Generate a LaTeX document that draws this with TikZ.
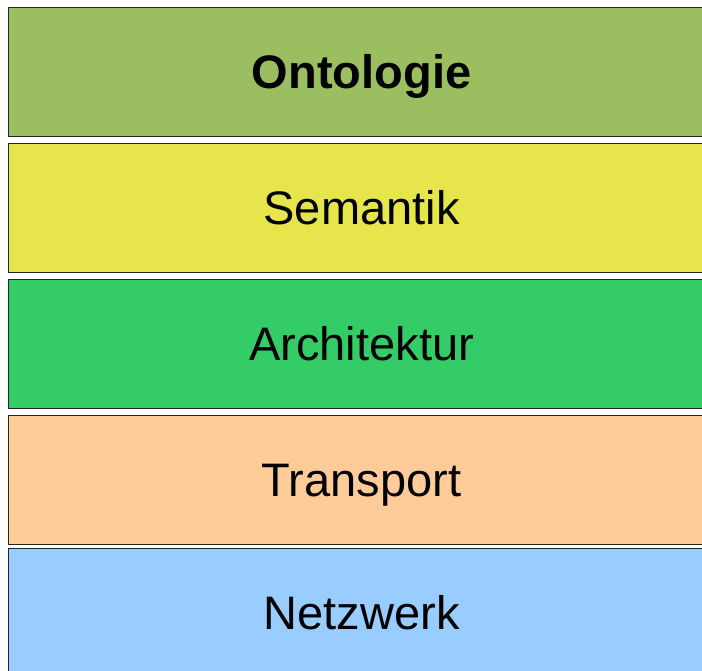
\documentclass[tikz,border=0pt]{standalone}
\usepackage{fontspec}
\setmainfont{Liberation Sans}
\definecolor{cOnto}{HTML}{9BBF60}
\definecolor{cSem}{HTML}{E6E64C}
\definecolor{cArch}{HTML}{33CC66}
\definecolor{cTrans}{HTML}{FFCC99}
\definecolor{cNetz}{HTML}{99CCFF}
\begin{document}
\begin{tikzpicture}[x=1pt,y=-1pt,
  layer/.style={draw=black!85, line width=1.2pt, rectangle, minimum width=706pt, inner sep=0pt, anchor=north west,
    text height=32pt, text depth=0pt, font=\fontsize{47}{52}\selectfont},
]
\useasboundingbox (0,0) rectangle (702,671);
\begin{scope}
\clip (0,0) rectangle (702,671);
\node[layer, fill=cOnto, minimum height=129pt] (onto) at (8,7) {\textbf{Ontologie}};
\node[layer, fill=cSem, minimum height=129pt] (sem) at (8,143) {Semantik};
\node[layer, fill=cArch, minimum height=129pt] (arch) at (8,279) {Architektur};
\node[layer, fill=cTrans, minimum height=129pt] (trans) at (8,415) {Transport};
\node[layer, fill=cNetz, minimum height=129pt] (netz) at (8,548) {Netzwerk};
\end{scope}
\end{tikzpicture}
\end{document}
